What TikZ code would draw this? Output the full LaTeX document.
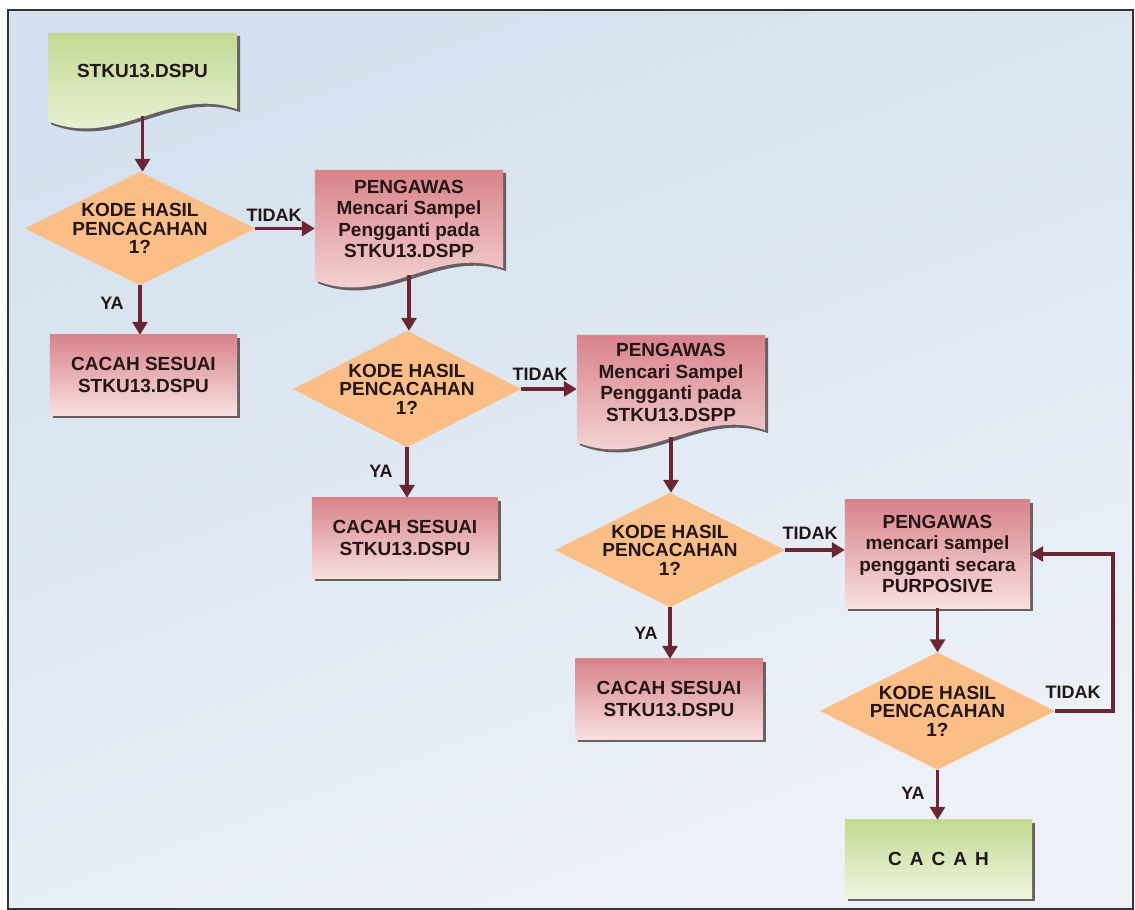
\documentclass[tikz,border=0pt]{standalone}
\usepackage{fontspec}
\setmainfont{Liberation Sans}
\usetikzlibrary{shadows,arrows.meta,calc}
\definecolor{bgA}{HTML}{D4E1EE}
\definecolor{bgB}{HTML}{EEF2F8}
\definecolor{pinkTop}{HTML}{D8838A}
\definecolor{pinkBot}{HTML}{F9E0E0}
\definecolor{greenTop}{HTML}{C2D992}
\definecolor{greenBot}{HTML}{EFF6E0}
\definecolor{dia}{HTML}{FBBE86}
\definecolor{arr}{HTML}{6B2533}
\definecolor{txt}{HTML}{241616}
\definecolor{shad}{HTML}{5A5254}
\pgfdeclarelayer{bgl}\pgfdeclarelayer{shp}\pgfsetlayers{bgl,shp,main}
\tikzset{
  lbl/.style={font=\bfseries\fontsize{19}{21.5}\selectfont, text=txt, align=center, inner sep=0pt},
  qlbl/.style={lbl, font=\bfseries\fontsize{19}{18.5}\selectfont},
  yn/.style={lbl, font=\bfseries\fontsize{18}{18}\selectfont},
  myshadow/.style={drop shadow={shadow xshift=3pt, shadow yshift=-3pt, fill=shad, opacity=0.9}},
  pinkfill/.style={top color=pinkTop, bottom color=pinkBot, myshadow},
  greenfill/.style={top color=greenTop, bottom color=greenBot, myshadow},
  diafill/.style={fill=dia},
  flow/.style={draw=arr, line width=3.5pt, -{Triangle[length=13pt,width=15pt]}}
}
\newcommand\docpath[2]{%
  \path[#2] (#1.north west) -- (#1.north east) -- (#1.south east)
    .. controls ($(#1.south east)!0.36!(#1.south west)+(0pt,24pt)$)
           and ($(#1.south west)!0.37!(#1.south east)+(0pt,-40pt)$)
    .. ([yshift=-12pt]#1.south west) -- cycle;}
\newcommand\diapath[2]{%
  \path[#2] (#1.north) -- (#1.east) -- (#1.south) -- (#1.west) -- cycle;}
\newcommand\boxpath[2]{%
  \path[#2] (#1.north west) rectangle (#1.south east);}
\begin{document}
\begin{tikzpicture}[x=1pt,y=-1pt]
\useasboundingbox (0,0) rectangle (1135,910);
\begin{pgfonlayer}{bgl}
  \fill[white] (0,0) rectangle (1135,910);
  \shade[top color=bgA, bottom color=bgB, shading angle=20] (8,10) rectangle (1133,909);
  \draw[line width=1.2pt, black!80] (8,10) rectangle (1133,909);
\end{pgfonlayer}

% nodes
\node[lbl, minimum width=189pt, minimum height=76pt] (d1) at (142.5,71) {STKU13.DSPU};
\node[qlbl, minimum width=230pt, minimum height=113pt] (q1) at (140,228.5) {KODE HASIL\\PENCACAHAN\\1?};
\node[lbl, minimum width=187pt, minimum height=80pt] (c1) at (143.5,375) {CACAH SESUAI\\STKU13.DSPU};

\node[lbl, minimum width=188pt, minimum height=98pt] (p1) at (409,219) {PENGAWAS\\Mencari Sampel\\Pengganti pada\\STKU13.DSPP};
\node[qlbl, minimum width=228pt, minimum height=116pt] (q2) at (407,389) {KODE HASIL\\PENCACAHAN\\1?};
\node[lbl, minimum width=186pt, minimum height=80pt] (c2) at (405,538) {CACAH SESUAI\\STKU13.DSPU};

\node[lbl, minimum width=188pt, minimum height=95pt] (p2) at (671,382.5) {PENGAWAS\\Mencari Sampel\\Pengganti pada\\STKU13.DSPP};
\node[qlbl, minimum width=230pt, minimum height=114pt] (q3) at (670,550) {KODE HASIL\\PENCACAHAN\\1?};
\node[lbl, minimum width=187pt, minimum height=80pt] (c3) at (669,699) {CACAH SESUAI\\STKU13.DSPU};

\node[lbl, minimum width=185pt, minimum height=108pt] (pp) at (937.5,554) {PENGAWAS\\mencari sampel\\pengganti secara\\PURPOSIVE};
\node[qlbl, minimum width=235pt, minimum height=117pt] (q4) at (937.5,711) {KODE HASIL\\PENCACAHAN\\1?};
\node[lbl, minimum width=187pt, minimum height=78pt] (fin) at (938.5,859) {C\hspace{8pt}A\hspace{8pt}C\hspace{8pt}A\hspace{8pt}H};

% shapes
\begin{pgfonlayer}{shp}
  \docpath{d1}{greenfill}
  \docpath{p1}{pinkfill}
  \docpath{p2}{pinkfill}
  \diapath{q1}{diafill}
  \diapath{q2}{diafill}
  \diapath{q3}{diafill}
  \diapath{q4}{diafill}
  \boxpath{c1}{pinkfill}
  \boxpath{c2}{pinkfill}
  \boxpath{c3}{pinkfill}
  \boxpath{pp}{pinkfill}
  \boxpath{fin}{greenfill}
\end{pgfonlayer}

% connectors
\draw[flow] ([yshift=-7pt]d1.south) -- (d1.south |- q1.north);
\draw[flow] (q1.east) -- (q1.east -| p1.west);
\draw[flow] (q1.south) -- (q1.south |- c1.north);
\draw[flow] ([yshift=-7pt]p1.south) -- (p1.south |- q2.north);
\draw[flow] (q2.east) -- (q2.east -| p2.west);
\draw[flow] (q2.south) -- (q2.south |- c2.north);
\draw[flow] ([yshift=-7pt]p2.south) -- (p2.south |- q3.north);
\draw[flow] (q3.east) -- (q3.east -| pp.west);
\draw[flow] (q3.south) -- (q3.south |- c3.north);
\draw[flow] (pp.south) -- (pp.south |- q4.north);
\draw[flow] (q4.south) -- (q4.south |- fin.north);
\coordinate (lp) at (1113,711);
\draw[flow] (q4.east) -- (q4.east -| lp) |- (pp.east);

% labels
\node[yn] (t1) at (274,215) {TIDAK};
\node[yn] (y1) at (112,303) {YA};
\node[yn] (t2) at (540,374) {TIDAK};
\node[yn] (y2) at (381,471) {YA};
\node[yn] (t3) at (810,533) {TIDAK};
\node[yn] (y3) at (646,633) {YA};
\node[yn] (t4) at (1073,692) {TIDAK};
\node[yn] (y4) at (913,793) {YA};
\end{tikzpicture}
\end{document}
